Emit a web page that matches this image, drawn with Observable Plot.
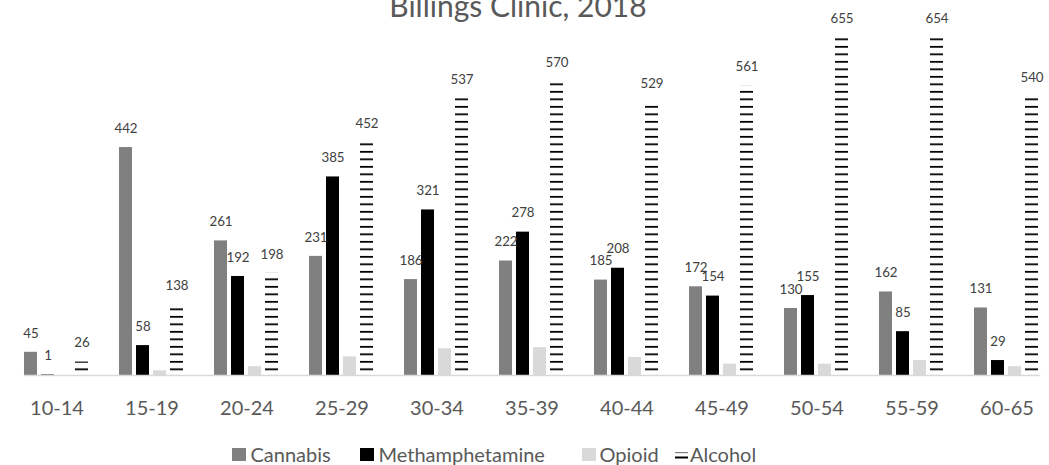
<!DOCTYPE html>
<html>
<head>
<meta charset="utf-8">
<script src="https://cdn.jsdelivr.net/npm/d3@7"></script>
<script src="https://cdn.jsdelivr.net/npm/@observablehq/plot@0.6"></script>
<style>
  html, body { margin: 0; padding: 0; background: #fff; overflow: hidden; }
  #wrap { position: relative; width: 1049px; height: 465px; overflow: hidden; font-family: Lato, "Open Sans", sans-serif; }
  #chart { position: absolute; left: 0; top: 0; }
  #title { position: absolute; left: 0; width: 1036px; top: -9.6px; text-align: center; font-size: 30px; line-height: 30px; color: #595959; white-space: nowrap; }
  .leg { position: absolute; top: 444px; font-size: 20px; line-height: 20px; color: #595959; white-space: nowrap; }
  .sw { position: absolute; top: 448px; width: 14px; height: 13px; }
</style>
</head>
<body>
<div id="wrap">
  <div id="chart"></div>
  <div id="title">Billings Clinic, 2018</div>
  <div id="legend"></div>
</div>
<script>
// ---- data ----
const ages = ["10-14","15-19","20-24","25-29","30-34","35-39","40-44","45-49","50-54","55-59","60-65"];
const seriesNames = ["Cannabis","Methamphetamine","Opioid","Alcohol"];
const cannabis = [45,442,261,231,186,222,185,172,130,162,131];
const methamphetamine = [1,58,192,385,321,278,208,154,155,85,29];
const opioid = [0,9,17,36,52,54,35,22,22,29,17];
const alcohol = [26,138,198,452,537,570,529,561,655,654,540];
const labelledSeries = ["Cannabis","Methamphetamine","Alcohol"];

const seriesColors = ["#808080","#000000","#d9d9d9","url(#alcohol-dash)"];
const valuesBySeries = [cannabis, methamphetamine, opioid, alcohol];

const table = ages.flatMap((age, i) =>
  seriesNames.map((series, j) => ({age, series, value: valuesBySeries[j][i]})));

const svg = Plot.plot({
  width: 1049,
  height: 420,
  marginLeft: 7,
  marginRight: -8,
  marginTop: 14,
  marginBottom: 45,
  style: {fontFamily: "Lato, 'Open Sans', sans-serif", background: "transparent", color: "#595959"},
  fx: {domain: ages, paddingInner: 0.314, paddingOuter: 0.157, label: null},
  x: {domain: seriesNames, paddingInner: 0.23, paddingOuter: 0, axis: null},
  y: {domain: [0, 700], axis: null},
  color: {domain: seriesNames, range: seriesColors},
  marks: [
    Plot.barY(table, {fx: "age", x: "series", y: "value", fill: "series"}),
    Plot.frame({anchor: "bottom", facet: "super", stroke: "#d9d9d9", strokeWidth: 1.5}),
    Plot.text(table.filter(d => labelledSeries.includes(d.series)), {
      fx: "age", x: "series", y: "value", text: d => String(d.value),
      dy: -19, fontSize: 13.3, fill: "#404040"
    }),
    Plot.axisFx({anchor: "bottom", tickSize: 0, tickPadding: 25, fontSize: 20, fill: "#595959", label: null})
  ]
});

// dashed (horizontal-line) pattern for Alcohol bars
const defs = d3.select(svg).insert("defs", ":first-child");
const pat = defs.append("pattern")
  .attr("id", "alcohol-dash")
  .attr("patternUnits", "userSpaceOnUse")
  .attr("width", 10).attr("height", 7.5);
pat.append("rect").attr("x", 0).attr("y", 0.9).attr("width", 10).attr("height", 1.8).attr("fill", "#000");

document.getElementById("chart").appendChild(svg);

// ---- legend ----
const legend = document.getElementById("legend");
const legendPos = [
  {sw: 232, tx: 250.5},
  {sw: 360, tx: 378.5},
  {sw: 582, tx: 599.5},
  {sw: 675, tx: 690}
];
seriesNames.forEach((name, i) => {
  const p = legendPos[i];
  if (name === "Alcohol") {
    const s = document.createElementNS("http://www.w3.org/2000/svg", "svg");
    s.setAttribute("width", 14); s.setAttribute("height", 14);
    s.style.position = "absolute"; s.style.left = p.sw + "px"; s.style.top = "448px";
    s.innerHTML = '<rect x="0" y="4" width="13" height="1.2" fill="#7f7f7f"/><rect x="0" y="8.5" width="13" height="2" fill="#000"/>';
    legend.appendChild(s);
  } else {
    const sw = document.createElement("div");
    sw.className = "sw";
    sw.style.left = p.sw + "px";
    sw.style.background = seriesColors[i];
    legend.appendChild(sw);
  }
  const t = document.createElement("div");
  t.className = "leg";
  t.style.left = p.tx + "px";
  t.textContent = name;
  legend.appendChild(t);
});
</script>
</body>
</html>
